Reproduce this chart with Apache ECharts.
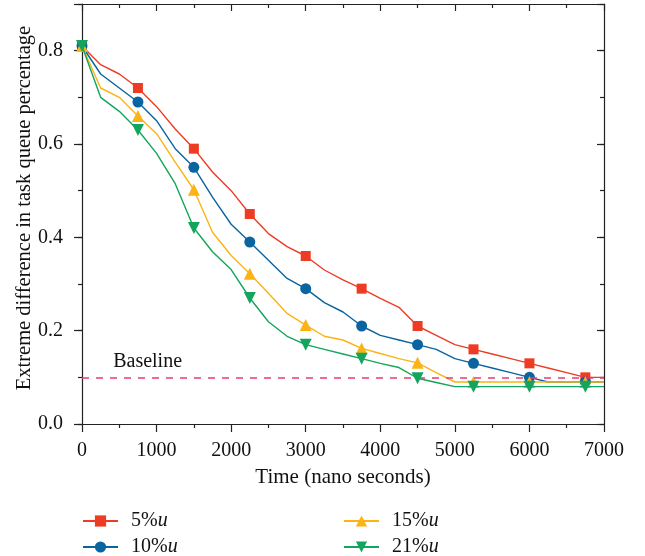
<!DOCTYPE html>
<html><head><meta charset="utf-8">
<script src="https://cdn.jsdelivr.net/npm/echarts@6/dist/echarts.min.js"></script>
<style>html,body{margin:0;padding:0;background:#fff}#c{width:645px;height:556px}</style>
</head><body><div id="c"></div>
<script>
const times = [0,250,500,750,1000,1250,1500,1750,2000,2250,2500,2750,3000,3250,3500,3750,4000,4250,4500,4750,5000,5250,5500,5750,6000,6250,6500,6750,7000];
const u5  = [0.81,0.77,0.75,0.72,0.68,0.632,0.59,0.54,0.50,0.45,0.408,0.38,0.36,0.33,0.309,0.29,0.269,0.25,0.21,0.19,0.17,0.16,0.15,0.14,0.13,0.12,0.11,0.10,0.10];
const u10 = [0.81,0.75,0.72,0.69,0.65,0.59,0.55,0.486,0.428,0.39,0.351,0.312,0.29,0.26,0.24,0.21,0.19,0.18,0.17,0.16,0.14,0.13,0.12,0.11,0.10,0.09,0.09,0.09,0.09];
const u15 = [0.81,0.72,0.70,0.66,0.622,0.561,0.502,0.411,0.361,0.322,0.28,0.237,0.212,0.188,0.18,0.162,0.151,0.14,0.131,0.11,0.09,0.09,0.09,0.09,0.09,0.09,0.09,0.09,0.09];
const u21 = [0.81,0.70,0.67,0.63,0.58,0.515,0.42,0.369,0.331,0.27,0.219,0.188,0.17,0.16,0.15,0.14,0.13,0.121,0.098,0.089,0.08,0.08,0.08,0.08,0.08,0.08,0.08,0.08,0.08];
const seriesNames = ['5%u','10%u','15%u','21%u'];
const xTicks = [0,1000,2000,3000,4000,5000,6000,7000];
const yTicks = [0.0,0.2,0.4,0.6,0.8];
const baselineValue = 0.096;
const baselineLabelPos = [880, 0.133];

const FONT = 'Liberation Serif';
const colors = ['#EE3B24','#0A64A0','#FBB315','#13A55B'];
const symbols = ['rect','circle','triangle','triangle'];
const sizes = [10,11,12,12];
const rotates = [0,0,0,180];

function build(vals){
  return times.map((t,i)=> i % 3 === 0 ? {value:[t, vals[i]]} : {value:[t, vals[i]], symbol:'none'});
}
const allVals = [u5,u10,u15,u21];
const series = allVals.map((v,k)=>({
  name: seriesNames[k], type:'line', data: build(v),
  symbol: symbols[k], symbolSize: sizes[k], symbolRotate: rotates[k],
  showAllSymbol: true,
  lineStyle:{color:colors[k], width:1.4},
  itemStyle:{color:colors[k]},
  z: 2+k
}));
series[0].markLine = {
  silent:true, symbol:'none',
  lineStyle:{color:'#E43E74', type:[7,7], width:1.5, opacity:1},
  itemStyle:{color:'#E43E74'},
  label:{show:false},
  emphasis:{disabled:true},
  data:[{yAxis: baselineValue, lineStyle:{color:'#E43E74', type:[7,7], width:1.5}}]
};
series[0].markPoint = {
  silent:true, symbol:'circle', symbolSize:1,
  itemStyle:{color:'rgba(0,0,0,0)'},
  label:{show:true, position:'inside', formatter:'Baseline', fontFamily:FONT, fontSize:20, color:'#111'},
  data:[{coord: baselineLabelPos}]
};

const axisLineStyle = {color:'#222', width:1.2};
const legendText = {
  fontFamily:FONT, fontSize:20, color:'#111', lineHeight:20,
  rich:{ n:{fontFamily:FONT, fontSize:20, color:'#111', lineHeight:20, padding:[0,0,0,8]}, i:{fontFamily:FONT, fontSize:20, lineHeight:20, fontStyle:'italic', color:'#111'} }
};
const legendFmt = name => '{n|' + name.slice(0,-1) + '}{i|u}';

const option = {
  backgroundColor:'#fff',
  animation:false,
  grid:{left:82, right:41, top:4, bottom:132, containLabel:false, outerBoundsMode:'none'},
  xAxis:[
    {type:'value', min:xTicks[0], max:xTicks[xTicks.length-1], interval:xTicks[1]-xTicks[0], position:'bottom',
     axisLine:{show:true, onZero:false, lineStyle:axisLineStyle},
     axisTick:{show:true, inside:false, length:8, lineStyle:axisLineStyle},
     minorTick:{show:true, splitNumber:2, length:4, lineStyle:axisLineStyle},
     splitLine:{show:false},
     axisLabel:{fontFamily:FONT, fontSize:20, color:'#111', margin:17, formatter: v => String(v)},
     name:'Time (nano seconds)', nameLocation:'middle', nameGap:43,
     nameTextStyle:{fontFamily:FONT, fontSize:21, color:'#111'}},
    {type:'value', min:xTicks[0], max:xTicks[xTicks.length-1], interval:xTicks[1]-xTicks[0], position:'top',
     axisLine:{show:true, onZero:false, lineStyle:axisLineStyle},
     axisTick:{show:true, inside:true, length:7, lineStyle:axisLineStyle},
     minorTick:{show:true, splitNumber:2, length:4, lineStyle:axisLineStyle},
     splitLine:{show:false}, axisLabel:{show:false}}
  ],
  yAxis:[
    {type:'value', min:0, max:0.9, interval:yTicks[1]-yTicks[0], position:'left',
     axisLine:{show:true, onZero:false, lineStyle:axisLineStyle},
     axisTick:{show:true, inside:false, length:8, lineStyle:axisLineStyle},
     splitLine:{show:false},
     axisLabel:{fontFamily:FONT, fontSize:20, color:'#111', margin:19,
       formatter: v => yTicks.some(t=>Math.abs(t-v)<1e-6) ? v.toFixed(1) : ''},
     name:'Extreme difference in task queue percentage', nameLocation:'middle', nameGap:47, nameMoveOverlap:false,
     nameTextStyle:{fontFamily:FONT, fontSize:20.5, color:'#111', padding:[0,0,0,12]}},
    {type:'value', min:0, max:0.9, interval:0.1, position:'left',
     axisLine:{show:false, onZero:false}, axisTick:{show:true, inside:false, length:4, lineStyle:axisLineStyle},
     splitLine:{show:false}, axisLabel:{show:false}},
    {type:'value', min:0, max:0.9, interval:0.2, position:'right',
     axisLine:{show:true, onZero:false, lineStyle:axisLineStyle}, axisTick:{show:true, inside:true, length:7, lineStyle:axisLineStyle},
     splitLine:{show:false}, axisLabel:{show:false}},
    {type:'value', min:0, max:0.9, interval:0.1, position:'right',
     axisLine:{show:false, onZero:false}, axisTick:{show:true, inside:true, length:4, lineStyle:axisLineStyle},
     splitLine:{show:false}, axisLabel:{show:false}}
  ],
  legend:[
    {data:[seriesNames[0],seriesNames[1]], orient:'vertical', left:82, top:511, height:60, padding:0, itemWidth:35, itemHeight:14, itemGap:6,
     textStyle:legendText, formatter:legendFmt},
    {data:[seriesNames[2],seriesNames[3]], orient:'vertical', left:343, top:511, height:60, padding:0, itemWidth:35, itemHeight:14, itemGap:6,
     textStyle:legendText, formatter:legendFmt}
  ],
  series: series
};
const chart = echarts.init(document.getElementById('c'), null, {renderer:'canvas'});
chart.setOption(option);
</script></body></html>
